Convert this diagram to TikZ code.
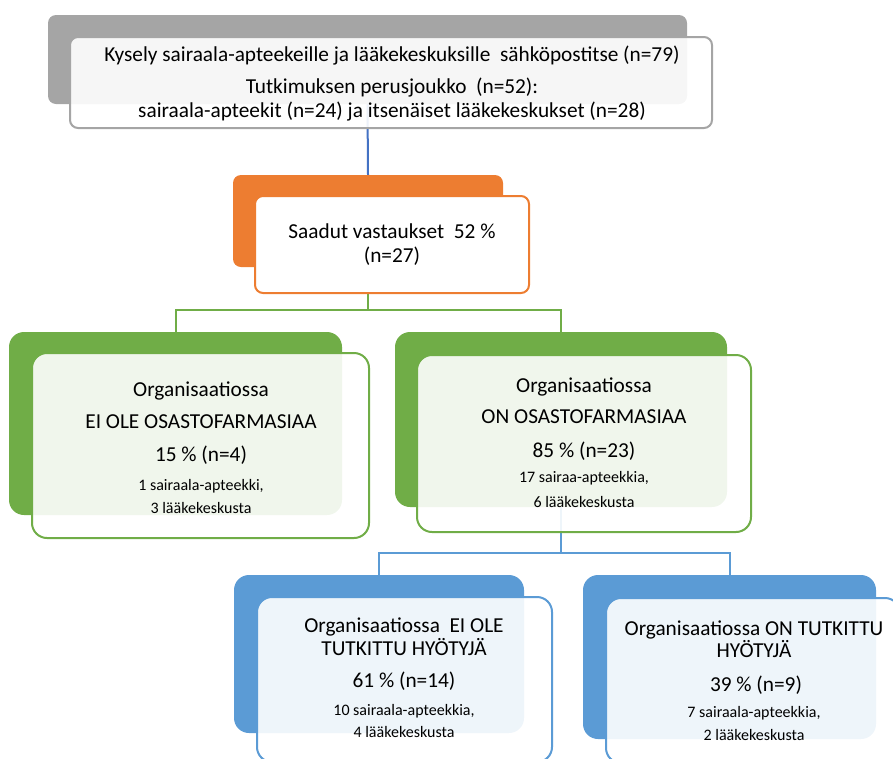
\documentclass[tikz,border=0pt]{standalone}
\usepackage{fontspec}
\setmainfont{Carlito}
\usetikzlibrary{backgrounds}

\definecolor{backgray}{RGB}{165,165,165}
\definecolor{orng}{RGB}{237,125,49}
\definecolor{grn}{RGB}{112,173,71}
\definecolor{blu}{RGB}{91,155,213}
\definecolor{darkblu}{RGB}{68,114,196}

\begin{document}
\begin{tikzpicture}[x=1pt, y=-1pt,
    back/.style={rectangle, inner sep=0pt, outer sep=0pt, anchor=north west},
    front/.style={rectangle, inner sep=0pt, outer sep=0pt, anchor=north west,
      line width=2pt, fill=white, fill opacity=0.9},
    conn/.style={line width=2pt},
    bigtxt/.style={font=\fontsize{21.3}{25}\selectfont, anchor=base, inner sep=0pt},
    smalltxt/.style={font=\fontsize{16}{19}\selectfont, anchor=base, inner sep=0pt}]
  \useasboundingbox (0,0) rectangle (893,758);

  % survey
  \node[back, fill=backgray, rounded corners=8pt, minimum width=639pt, minimum height=89pt] (surveyback) at (48,15) {};
  \node[front, draw=backgray, rounded corners=8pt, minimum width=642pt, minimum height=91pt] (surveyfront) at (70,37) {};
  \node[bigtxt] (survey1) at (392,61) {Kysely sairaala-apteekeille ja lääkekeskuksille\ \ sähköpostitse (n=79)};
  \node[bigtxt] (survey2) at (392,93) {Tutkimuksen perusjoukko\ \ (n=52):};
  \node[bigtxt] (survey3) at (392,117) {sairaala-apteekit (n=24) ja itsenäiset lääkekeskukset (n=28)};

  % answers
  \node[back, fill=orng, rounded corners=8pt, minimum width=270pt, minimum height=92pt] (answback) at (233,175) {};
  \node[front, draw=orng, fill opacity=1, rounded corners=8pt, minimum width=274pt, minimum height=97pt] (answfront) at (255,196) {};
  \node[bigtxt] (answ1) at (392,238) {Saadut vastaukset\ \ 52 \%};
  \node[bigtxt] (answ2) at (392,262) {(n=27)};

  % no ward pharmacy
  \node[back, fill=grn, rounded corners=15pt, minimum width=333pt, minimum height=183pt] (noback) at (9,332) {};
  \node[front, draw=grn, rounded corners=15pt, minimum width=337pt, minimum height=185pt] (nofront) at (32,353) {};
  \node[bigtxt] (no1) at (201,396) {Organisaatiossa};
  \node[bigtxt] (no2) at (201,428) {EI OLE OSASTOFARMASIAA};
  \node[bigtxt] (no3) at (201,461) {15 \% (n=4)};
  \node[smalltxt] (no4) at (201,490) {1 sairaala-apteekki,};
  \node[smalltxt] (no5) at (201,513) {3 lääkekeskusta};

  % ward pharmacy
  \node[back, fill=grn, rounded corners=15pt, minimum width=332pt, minimum height=175pt] (yesback) at (395,332) {};
  \node[front, draw=grn, rounded corners=15pt, minimum width=334pt, minimum height=177pt] (yesfront) at (417,355) {};
  \node[bigtxt] (yes1) at (584,392) {Organisaatiossa};
  \node[bigtxt] (yes2) at (584,423) {ON OSASTOFARMASIAA};
  \node[bigtxt] (yes3) at (584,457) {85 \% (n=23)};
  \node[smalltxt] (yes4) at (584,482) {17 sairaa-apteekkia,};
  \node[smalltxt] (yes5) at (584,507) {6 lääkekeskusta};

  % benefits not studied
  \node[back, fill=blu, rounded corners=15pt, minimum width=290pt, minimum height=158pt] (nobenback) at (234,575) {};
  \node[front, draw=blu, rounded corners=15pt, minimum width=295pt, minimum height=165pt] (nobenfront) at (257,597) {};
  \node[bigtxt] (noben1) at (404,632) {Organisaatiossa\ \ EI OLE};
  \node[bigtxt] (noben2) at (404,655) {TUTKITTU HYÖTYJÄ};
  \node[bigtxt] (noben3) at (404,687) {61 \% (n=14)};
  \node[smalltxt] (noben4) at (404,715) {10 sairaala-apteekkia,};
  \node[smalltxt] (noben5) at (404,737) {4 lääkekeskusta};

  % benefits studied
  \node[back, fill=blu, rounded corners=15pt, minimum width=293pt, minimum height=164pt] (yesbenback) at (583,575) {};
  \node[front, draw=blu, rounded corners=15pt, minimum width=294pt, minimum height=165pt] (yesbenfront) at (606,598) {};
  \node[bigtxt] (yesben1) at (754,635) {Organisaatiossa ON TUTKITTU};
  \node[bigtxt] (yesben2) at (754,657) {HYÖTYJÄ};
  \node[bigtxt] (yesben3) at (756,691) {39 \% (n=9)};
  \node[smalltxt] (yesben4) at (754,717) {7 sairaala-apteekkia,};
  \node[smalltxt] (yesben5) at (754,740) {2 lääkekeskusta};

  \begin{pgfonlayer}{background}
    \coordinate (gsplit) at (368,310);
    \coordinate (bsplit) at (561,553);
    \draw[conn, darkblu] (surveyback.south) -- (answback.north);
    \draw[conn, grn] (answback.south) -- (gsplit);
    \draw[conn, grn] (noback.north) |- (gsplit) -| (yesback.north);
    \draw[conn, blu] (yesback.south) -- (bsplit);
    \draw[conn, blu] (nobenback.north) |- (bsplit) -| (yesbenback.north);
  \end{pgfonlayer}
\end{tikzpicture}
\end{document}
